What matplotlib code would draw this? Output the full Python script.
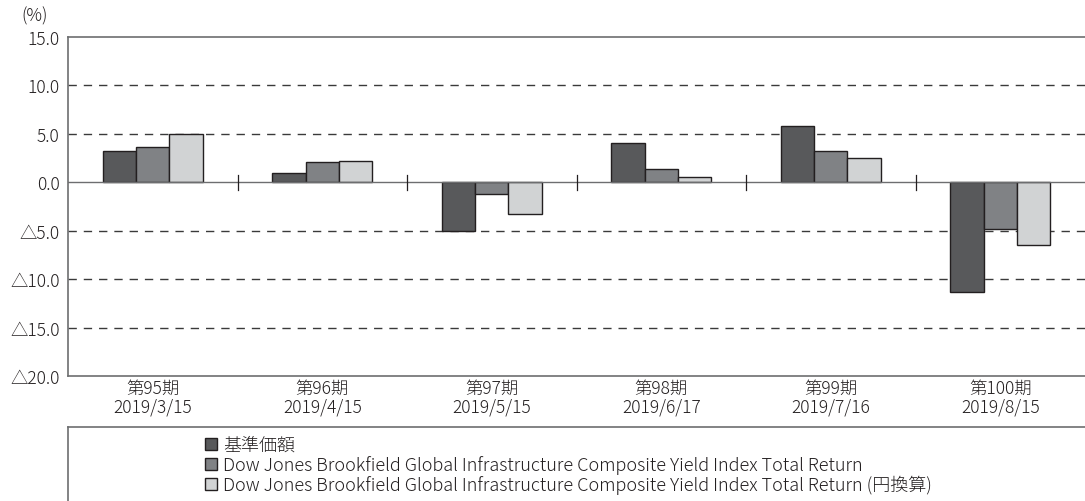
import matplotlib
matplotlib.use("Agg")
import matplotlib.pyplot as plt
from matplotlib.patches import Patch
from matplotlib.lines import Line2D
import numpy as np

plt.rcParams['font.family'] = ['Noto Sans CJK JP', 'DejaVu Sans']
plt.rcParams['font.weight'] = 'light'

periods = ['第95期', '第96期', '第97期', '第98期', '第99期', '第100期']
dates = ['2019/3/15', '2019/4/15', '2019/5/15', '2019/6/17', '2019/7/16', '2019/8/15']
fund = [3.2, 0.95, -5.0, 4.05, 5.8, -11.3]
index_usd = [3.6, 2.1, -1.2, 1.35, 3.2, -4.8]
index_jpy = [5.0, 2.2, -3.3, 0.5, 2.5, -6.5]
series_names = ['基準価額',
                'Dow Jones Brookfield Global Infrastructure Composite Yield Index Total Return',
                'Dow Jones Brookfield Global Infrastructure Composite Yield Index Total Return (円換算)']
yticks = [15, 10, 5, 0, -5, -10, -15, -20]
ytick_labels = ['15.0', '10.0', '5.0', '0.0', '△5.0', '△10.0', '△15.0', '△20.0']

colors = ['#58595b', '#808285', '#d1d3d4']
edge = '#231f20'
text_col = '#231f20'
fs = 12.5

fig = plt.figure(figsize=(10.85, 5.02), dpi=100)
ax = fig.add_axes([68 / 1085, 1 - 377 / 502, 1 - 68 / 1085, (377 - 38) / 502])

x = np.arange(len(periods))
w = 0.196
for i, vals in enumerate([fund, index_usd, index_jpy]):
    ax.bar(x + (i - 1) * w, vals, w, color=colors[i], edgecolor=edge,
           linewidth=1.0, zorder=3)

ax.set_xlim(-0.5, len(periods) - 0.5)
ax.set_ylim(-20, 15)
ax.set_yticks(yticks)
ax.set_yticklabels(ytick_labels, fontsize=fs, color=text_col)
ax.tick_params(axis='y', length=0, pad=6)
ax.set_xticks(x)
ax.set_xticklabels([p + '\n' + d for p, d in zip(periods, dates)],
                   fontsize=fs, color=text_col, linespacing=1.05)
ax.tick_params(axis='x', length=0, pad=2)

for g in [10, 5, -5, -10, -15]:
    ax.axhline(g, color='#3a3a3a', linewidth=1.0, linestyle=(0, (6, 5)), zorder=1)
ax.axhline(0, color='#6d6e70', linewidth=1.0, zorder=4)

# group separators on zero line
for s in x[:-1] + 0.5:
    ax.plot([s, s], [-0.75, 0.75], color='#231f20', linewidth=0.9, zorder=4)

for side in ['left', 'top', 'bottom']:
    ax.spines[side].set_color('#6d6e70')
    ax.spines[side].set_linewidth(1.2)
ax.spines['right'].set_visible(False)

fig.text(35 / 1085, 1 - 16 / 502, '(%)', fontsize=fs, color=text_col,
         ha='center', va='center')

# legend frame
fig.add_artist(Line2D([68 / 1085, 1.0], [1 - 428 / 502, 1 - 428 / 502],
                      color='#6d6e70', linewidth=1.2))
fig.add_artist(Line2D([68 / 1085, 68 / 1085], [0, 1 - 428 / 502],
                      color='#6d6e70', linewidth=1.2))

handles = [Patch(facecolor=c, edgecolor=edge, linewidth=1.0) for c in colors]
fig.legend(handles, series_names, loc='upper left',
           bbox_to_anchor=(205 / 1085, 1 - 437 / 502), frameon=False,
           fontsize=13, handlelength=0.65, handleheight=0.65, handletextpad=0.35,
           labelspacing=0.05, borderaxespad=0, borderpad=0,
           labelcolor=text_col)

fig.savefig('out.png', dpi=100)
